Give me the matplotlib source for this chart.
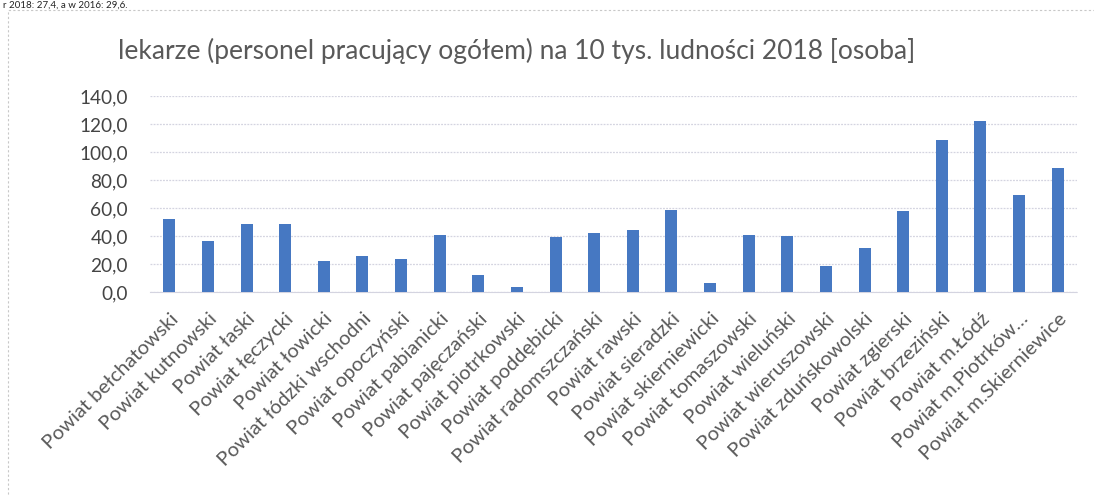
import matplotlib
matplotlib.use("Agg")
import matplotlib.pyplot as plt
from matplotlib.patches import Rectangle
from matplotlib.transforms import ScaledTranslation

categories = [
    "Powiat bełchatowski", "Powiat kutnowski", "Powiat łaski", "Powiat łęczycki",
    "Powiat łowicki", "Powiat łódzki wschodni", "Powiat opoczyński", "Powiat pabianicki",
    "Powiat pajęczański", "Powiat piotrkowski", "Powiat poddębicki", "Powiat radomszczański",
    "Powiat rawski", "Powiat sieradzki", "Powiat skierniewicki", "Powiat tomaszowski",
    "Powiat wieluński", "Powiat wieruszowski", "Powiat zduńskowolski", "Powiat zgierski",
    "Powiat brzeziński", "Powiat m.Łódź", "Powiat m.Piotrków…", "Powiat m.Skierniewice",
]
values = [52.0, 36.2, 48.6, 48.3, 22.4, 26.0, 23.6, 41.0,
          12.1, 3.6, 39.5, 42.4, 44.3, 58.6, 6.2, 40.5,
          40.2, 18.6, 31.4, 57.9, 108.3, 121.9, 69.3, 88.3]
yticks = [0, 20, 40, 60, 80, 100, 120, 140]
ytick_labels = ["0,0", "20,0", "40,0", "60,0", "80,0", "100,0", "120,0", "140,0"]
title = "lekarze (personel pracujący ogółem) na 10 tys. ludności 2018 [osoba]"
top_text = "r 2018: 27,4, a w 2016: 29,6."

FONT = ["Lato", "DejaVu Sans"]
GRAY = "#595959"

fig = plt.figure(figsize=(10.94, 4.95), dpi=100)
fig.patch.set_facecolor("white")

# chart border (dashed, light gray)
fig.patches.append(Rectangle((8 / 1094, -0.05), 1.2, 1 - 10 / 495 + 0.05,
                             transform=fig.transFigure, fill=False,
                             edgecolor="#c8c8c8", linewidth=0.8, linestyle=(0, (2, 2))))

ax = fig.add_axes([150 / 1094, 1 - 292 / 495, 927 / 1094, 196 / 495])
x = list(range(len(categories)))
ax.bar(x, values, width=0.31, color="#4678c2", zorder=3)
ax.set_xlim(-0.5, len(categories) - 0.5)
ax.set_ylim(0, 140)
ax.set_yticks(yticks)
ax.set_yticklabels(ytick_labels, fontfamily=FONT, fontsize=13.7, color="#444444")
ax.set_xticks(x)
ax.set_xticklabels(categories, rotation=45, ha="right", rotation_mode="anchor",
                   fontfamily=FONT, fontsize=14.5, color=GRAY)
shift = ScaledTranslation(-6 / 100, 0, fig.dpi_scale_trans)
for lbl in ax.get_xticklabels():
    lbl.set_transform(lbl.get_transform() + shift)
ax.tick_params(axis="both", length=0)
ax.tick_params(axis="y", pad=16)
ax.tick_params(axis="x", pad=13)
ax.yaxis.grid(True, color="#d4d4e0", linewidth=0.9, linestyle=(0, (1.5, 1)), zorder=0)
for s in ["top", "right", "left"]:
    ax.spines[s].set_visible(False)
ax.spines["bottom"].set_color("#d4d4e0")
ax.spines["bottom"].set_linestyle((0, (1.5, 1)))

fig.text(517 / 1094, 1 - 51 / 495, title, ha="center", va="center",
         fontfamily=FONT, fontsize=19, color=GRAY)
fig.text(0.003, 0.999, top_text, ha="left", va="top",
         fontfamily=FONT, fontsize=7, color="#222222")

fig.savefig("out.png", dpi=100)
